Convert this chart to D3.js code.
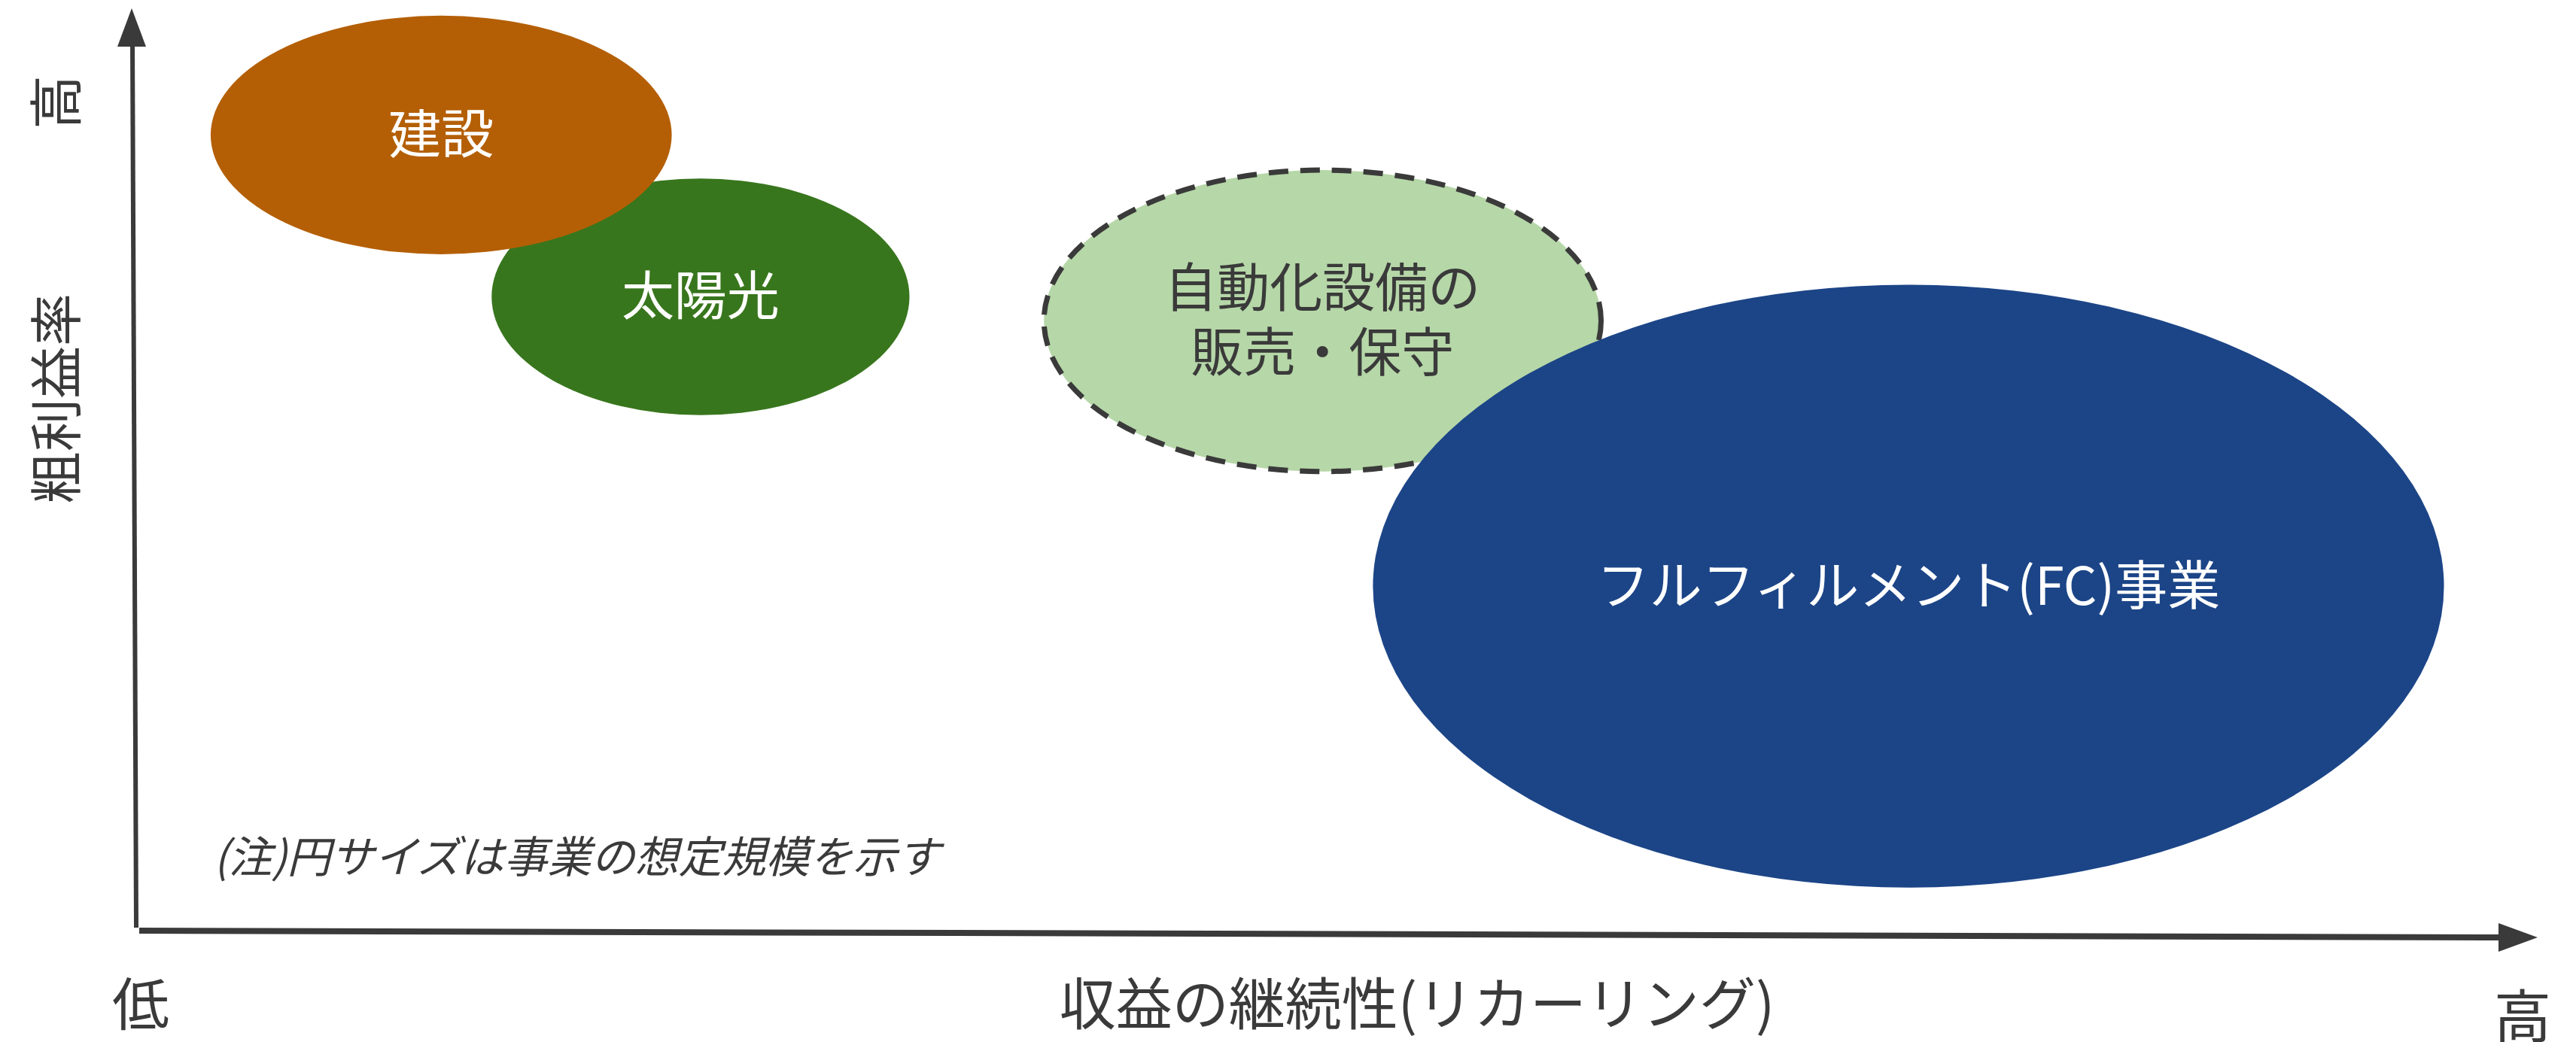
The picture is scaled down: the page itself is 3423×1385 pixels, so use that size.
<!DOCTYPE html>
<html>
<head>
<meta charset="utf-8">
<script src="https://cdn.jsdelivr.net/npm/d3@7"></script>
<style>
body { margin: 0; background: #fff; }
text { font-family: "Noto Sans CJK JP", "Noto Sans", sans-serif; }
</style>
</head>
<body>
<svg id="chart"></svg>
<script>
// business segments (drawn in this order, later ones on top)
const names = ['太陽光', '建設', '自動化設備の\n販売・保守', 'フルフィルメント(FC)事業']
const recurring = [23.5, 12.7, 49.4, 73.8]   // x: 収益の継続性
const margin = [68.8, 86.3, 66.2, 37.5]      // y: 粗利益率
const sizeX = [8.7, 9.6, 11.6, 22.3]          // ellipse half-width (x units)
const sizeY = [12.8, 12.9, 16.3, 32.6]        // ellipse half-height (y units)
const fills = ['#38761d', '#b45f06', '#b6d7a8', '#1c4587']
const labelColors = ['#ffffff', '#ffffff', '#3a3a3a', '#ffffff']
const dashed = [false, false, true, false]

const yTitle = '粗利益率'
const xTitle = '収益の継続性(リカーリング)'
const lowLabel = '低'
const highLabel = '高'
const note = '(注)円サイズは事業の想定規模を示す'

const W = 3423, H = 1385
const ink = '#3a3a3a'

let svg = d3.select('#chart').attr('width', W).attr('height', H)

let x = d3.scaleLinear().domain([0, 100]).range([181, 3372])
let y = d3.scaleLinear().domain([0, 100]).range([1240, 11])

let data = names.map((n, i) => ({
    name: n, x: recurring[i], y: margin[i], rx: sizeX[i], ry: sizeY[i],
    fill: fills[i], color: labelColors[i], dashed: dashed[i]
}))

svg.selectAll('ellipse')
    .data(data)
    .join('ellipse')
    .attr('cx', d => x(d.x))
    .attr('cy', d => y(d.y))
    .attr('rx', d => x(d.rx) - x(0))
    .attr('ry', d => y(0) - y(d.ry))
    .attr('fill', d => d.fill)
    .attr('stroke', d => d.dashed ? ink : 'none')
    .attr('stroke-width', 7)
    .attr('stroke-dasharray', d => d.dashed ? '26,16' : null)

// labels
let labels = svg.selectAll('text.seg')
    .data(data)
    .join('text')
    .attr('class', 'seg')
    .attr('x', d => x(d.x))
    .attr('y', d => y(d.y))
    .attr('text-anchor', 'middle')
    .attr('fill', d => d.color)
    .attr('font-size', 70)
labels.each(function (d) {
    let lines = d.name.split('\n')
    let t = d3.select(this)
    lines.forEach((l, j) => {
        t.append('tspan')
            .attr('x', x(d.x))
            .attr('dy', j == 0 ? ((-(lines.length - 1) / 2) * 1.23 + 0.35) + 'em' : '1.23em')
            .text(l)
    })
})

// axes
svg.append('line')
    .attr('x1', 181).attr('y1', 1233).attr('x2', 176).attr('y2', 55)
    .attr('stroke', ink).attr('stroke-width', 6)
svg.append('path')
    .attr('d', 'M175,11 L194,62 L156,62 Z')
    .attr('fill', ink)
svg.append('line')
    .attr('x1', 185).attr('y1', 1237).attr('x2', 3325).attr('y2', 1246)
    .attr('stroke', ink).attr('stroke-width', 8)
svg.append('path')
    .attr('d', 'M3372,1246 L3320,1227 L3320,1265 Z')
    .attr('fill', ink)

// axis texts
svg.append('text')
    .attr('transform', 'translate(76,136) rotate(-90)')
    .attr('text-anchor', 'middle').attr('dy', '0.35em')
    .attr('font-size', 72).attr('fill', ink)
    .text(highLabel)
svg.append('text')
    .attr('transform', 'translate(76,530) rotate(-90)')
    .attr('text-anchor', 'middle').attr('dy', '0.35em')
    .attr('font-size', 70).attr('fill', ink)
    .text(yTitle)
svg.append('text')
    .attr('x', 187).attr('y', 1336)
    .attr('text-anchor', 'middle').attr('dy', '0.35em')
    .attr('font-size', 76).attr('fill', ink)
    .text(lowLabel)
svg.append('text')
    .attr('x', 1883).attr('y', 1336)
    .attr('text-anchor', 'middle').attr('dy', '0.35em')
    .attr('font-size', 75).attr('fill', ink)
    .text(xTitle)
svg.append('text')
    .attr('x', 3352).attr('y', 1352)
    .attr('text-anchor', 'middle').attr('dy', '0.35em')
    .attr('font-size', 76).attr('fill', ink)
    .text(highLabel)

svg.append('text')
    .attr('x', 284).attr('y', 1140)
    .attr('text-anchor', 'start').attr('dy', '0.35em')
    .attr('font-size', 58).attr('font-style', 'italic').attr('fill', ink)
    .text(note)
</script>
</body>
</html>
